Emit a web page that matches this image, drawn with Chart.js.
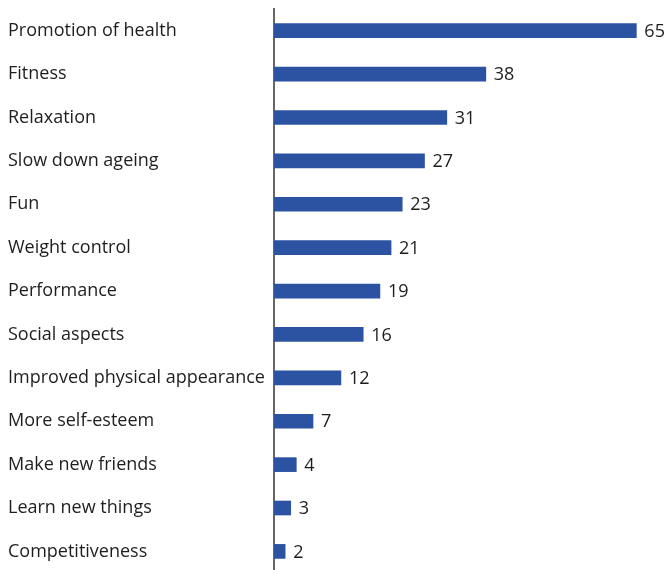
<!DOCTYPE html>
<html>
<head>
<meta charset="utf-8">
<script src="https://cdn.jsdelivr.net/npm/chart.js@4"></script>
<style>
  html, body { margin: 0; padding: 0; background: #fff; overflow: hidden; }
  #wrap { width: 667px; height: 582px; position: relative; }
</style>
</head>
<body>
<div id="wrap"><canvas id="motivesChart"></canvas></div>
<script>
const categories = [
  "Promotion of health",
  "Fitness",
  "Relaxation",
  "Slow down ageing",
  "Fun",
  "Weight control",
  "Performance",
  "Social aspects",
  "Improved physical appearance",
  "More self-esteem",
  "Make new friends",
  "Learn new things",
  "Competitiveness",
];
const shares = [65, 38, 31, 27, 23, 21, 19, 16, 12, 7, 4, 3, 2];

const labelFont = "18px 'Open Sans'";

// draws the number just right of each bar
const valueLabels = {
  id: "valueLabels",
  afterDatasetsDraw(chart) {
    const ctx = chart.ctx;
    const meta = chart.getDatasetMeta(0);
    ctx.save();
    ctx.font = labelFont;
    ctx.fillStyle = "#1e1e1e";
    ctx.textBaseline = "middle";
    ctx.textAlign = "left";
    meta.data.forEach((bar, i) => {
      ctx.fillText(String(shares[i]), bar.x + 8, bar.y + 1);
    });
    ctx.restore();
  },
};

const ctx = document.getElementById("motivesChart");

new Chart(ctx, {
  type: "bar",
  data: {
    labels: categories,
    datasets: [
      {
        data: shares,
        backgroundColor: "#2c53a2",
        barThickness: 14,
      },
    ],
  },
  options: {
    indexAxis: "y",
    responsive: true,
    maintainAspectRatio: false,
    animation: false,
    layout: { padding: { left: 8, top: 9, right: 0, bottom: 1 } },
    plugins: { legend: { display: false }, tooltip: { enabled: false } },
    scales: {
      x: {
        display: false,
        min: 0,
        max: 70.5,
      },
      y: {
        grid: { display: false },
        border: { display: true, color: "#666", width: 2 },
        ticks: {
          crossAlign: "far",
          color: "#1e1e1e",
          font: { family: "Open Sans", size: 18, lineHeight: 0.1 },
          padding: 8,
        },
        afterFit: function (scale) {
          scale.width = 266; // axis line sits at x ~ 274
        },
      },
    },
  },
  plugins: [valueLabels],
});
</script>
</body>
</html>
